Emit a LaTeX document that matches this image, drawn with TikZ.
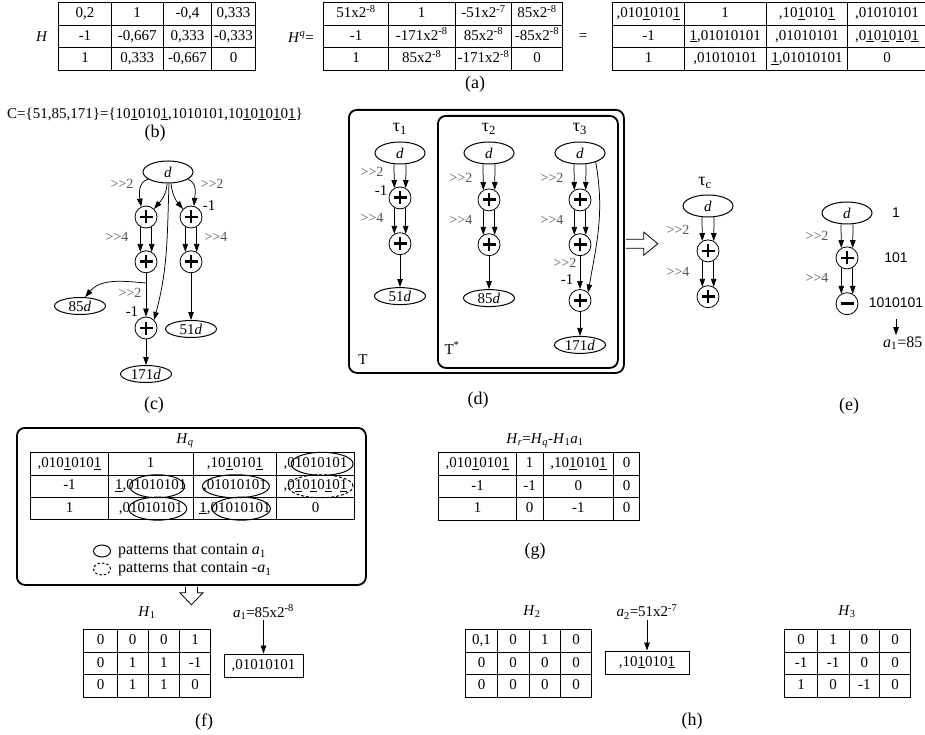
\documentclass[tikz,border=0pt]{standalone}
\usepackage{fontspec}
\setmainfont{Liberation Serif}
\setsansfont{Liberation Sans}
\usetikzlibrary{arrows.meta,positioning,matrix,shapes.geometric}
\definecolor{shiftgray}{HTML}{555555}
\newcommand{\nd}[1]{\underline{#1}}
\newcommand{\shr}[1]{>\kern0pt>#1}
\newcommand{\tauof}[1]{τ\textsubscript{#1}}

\begin{document}
\begin{tikzpicture}[x=1pt,y=1pt,
 font=\fontsize{15}{18}\selectfont,
 node distance=22pt,
 dnode/.style={ellipse,draw,line width=1pt,minimum width=50pt,minimum height=22pt,inner sep=0pt},
 res/.style={ellipse,draw,line width=1pt,minimum width=51pt,minimum height=17pt,inner sep=0pt},
 adder/.style={circle,draw,line width=0.8pt,minimum size=22pt,inner sep=0pt,
   path picture={\draw[line width=2.8pt]
     ([xshift=-6.5pt]path picture bounding box.center) -- ([xshift=6.5pt]path picture bounding box.center)
     ([yshift=-6.5pt]path picture bounding box.center) -- ([yshift=6.5pt]path picture bounding box.center);}},
 subber/.style={circle,draw,line width=0.8pt,minimum size=22pt,inner sep=0pt,
   path picture={\draw[line width=2.8pt]
     ([xshift=-6.5pt]path picture bounding box.center) -- ([xshift=6.5pt]path picture bounding box.center);}},
 arr/.style={-{Triangle[length=8pt,width=5.5pt]},line width=0.75pt},
 lbl/.style={inner sep=1pt},
 taulbl/.style={inner sep=1pt,font=\fontsize{18}{20}\selectfont},
 captxt/.style={inner sep=1pt,font=\fontsize{18}{20}\selectfont},
 shiftlbl/.style={inner sep=1pt,text=shiftgray,font=\fontsize{14}{16}\selectfont},
 sanslbl/.style={inner sep=1pt,font=\sffamily\fontsize{14}{16}\selectfont},
 legtxt/.style={inner sep=1pt,font=\fontsize{16}{18}\selectfont},
 cell/.style={draw,line width=0.9pt,minimum height=22.6pt,inner sep=0pt,anchor=center,
   text height=10pt,text depth=3pt},
 tbl/.style={matrix of nodes,nodes={cell},column sep=-0.9pt,row sep=-0.9pt,inner sep=0pt,
   anchor=north west},
 frame/.style={draw,line width=1.8pt,rounded corners=8pt,anchor=north west,inner sep=0pt},
 pat/.style={ellipse,draw,line width=1pt,minimum height=23pt,inner sep=0pt},
 openarr/.style={draw,fill=white,line width=0.8pt,line join=miter}
]
\useasboundingbox (0,0) rectangle (925,-735);

% (a) the three matrices
\node[lbl] (Hname) at (42,-37) {\textit{H}};
\matrix[tbl,
 column 1/.style={nodes={minimum width=52.7pt}},
 column 2/.style={nodes={minimum width=51.7pt}},
 column 3/.style={nodes={minimum width=48.7pt}},
 column 4/.style={nodes={minimum width=43.7pt}}] (Ha) at (58,-2) {
 0,2 & 1 & -0,4 & 0,333 \\
 -1 & -0,667 & 0,333 & -0,333 \\
 1 & 0,333 & -0,667 & 0 \\
};
\node[lbl] (Hqname) at (301,-37) {\textit{H}\textsuperscript{\textit{q}}=};
\matrix[tbl,
 column 1/.style={nodes={minimum width=64.7pt}},
 column 2/.style={nodes={minimum width=66.7pt}},
 column 3/.style={nodes={minimum width=56.7pt}},
 column 4/.style={nodes={minimum width=50.7pt}}] (Hqa) at (323,-2) {
 51x2\textsuperscript{-8} & 1 & -51x2\textsuperscript{-7} & 85x2\textsuperscript{-8} \\
 -1 & -171x2\textsuperscript{-8} & 85x2\textsuperscript{-8} & -85x2\textsuperscript{-8} \\
 1 & 85x2\textsuperscript{-8} & -171x2\textsuperscript{-8} & 0 \\
};
\node[lbl] (eqa) at (583,-37) {=};
\matrix[tbl,
 column 1/.style={nodes={minimum width=71.7pt}},
 column 2/.style={nodes={minimum width=81.7pt}},
 column 3/.style={nodes={minimum width=81.7pt}},
 column 4/.style={nodes={minimum width=78.7pt}}] (Hca) at (612,-2) {
 ,010\nd{1}010\nd{1} & 1 & ,10\nd{1}010\nd{1} & ,01010101 \\
 -1 & \nd{1},01010101 & ,01010101 & ,0\nd{1}0\nd{1}0\nd{1}0\nd{1} \\
 1 & ,01010101 & \nd{1},01010101 & 0 \\
};
\node[captxt] (capa) at (475,-84) {(a)};

% (b)
\node[lbl,anchor=west] (Cset) at (6,-114)
 {C=\{51,85,171\}=\{10\nd{1}010\nd{1},1010101,10\nd{1}0\nd{1}0\nd{1}0\nd{1}\}};
\node[captxt] (capb) at (155,-133) {(b)};

% (c) graph of the three constants
\node[dnode] (cd) at (168,-172) {\textit{d}};
\node[adder] (cL1) at (146,-217) {};
\node[adder] (cR1) at (191,-217) {};
\node[adder,below=of cL1] (cL2) {};
\node[adder,below=of cR1] (cR2) {};
\node[adder] (cL3) at (146,-328) {};
\node[res] (c85) at (80,-306) {85\textit{d}};
\node[res] (c51) at (191,-329) {51\textit{d}};
\node[res] (c171) at (146,-374) {171\textit{d}};
\coordinate (cSplit) at (146,-283);
\draw[arr] (cd.200) to[out=195,in=100] (cL1.115);
\draw[arr] (cd.265) to[out=268,in=50] (cL1.45);
\draw[arr] (cd.285) to[out=275,in=130] (cR1.135);
\draw[arr] (cd.340) to[out=340,in=85] (cR1.75);
\draw[arr] (cd.275) to[out=268,in=75] (cL3.45);
\draw[arr] (cL1.240) -- (cL2.120);
\draw[arr] (cL1.300) -- (cL2.60);
\draw[arr] (cR1.240) -- (cR2.120);
\draw[arr] (cR1.300) -- (cR2.60);
\draw[arr] (cL2) -- (cL3);
\draw[arr] (cSplit) to[out=175,in=50] (c85.60);
\draw[arr] (cR2) -- (c51);
\draw[arr] (cL3) -- (c171);
\node[shiftlbl] (cs1) at (122,-184) {\shr{2}};
\node[shiftlbl] (cs2) at (212,-184) {\shr{2}};
\node[lbl] (cm1) at (209,-206) {-1};
\node[shiftlbl] (cs3) at (117,-237) {\shr{4}};
\node[shiftlbl] (cs4) at (216,-237) {\shr{4}};
\node[shiftlbl] (cs5) at (130,-293) {\shr{2}};
\node[lbl] (cm2) at (132,-312) {-1};
\node[captxt] (capc) at (154,-405) {(c)};

% (d) trees tau_1, tau_2, tau_3
\node[frame,minimum width=275pt,minimum height=263pt] (Tbox) at (348,-109) {};
\node[frame,minimum width=180pt,minimum height=252pt] (Tsbox) at (437,-115) {};
\node[lbl] (Tlbl) at (363,-360) {T};
\node[lbl] (Tslbl) at (452,-348) {T\textsuperscript{*}};

\node[taulbl] (tau1) at (400,-129) {\tauof{1}};
\node[dnode] (t1d) at (400,-153) {\textit{d}};
\node[adder,below=of t1d] (t1a) {};
\node[adder,below=23pt of t1a] (t1b) {};
\node[res,below=32pt of t1b] (t1r) {51\textit{d}};
\draw[arr] ([xshift=-6pt]t1d.south) -- (t1a.120);
\draw[arr] ([xshift=6pt]t1d.south) -- (t1a.60);
\draw[arr] (t1a.240) -- (t1b.120);
\draw[arr] (t1a.300) -- (t1b.60);
\draw[arr] (t1b) -- (t1r);
\node[shiftlbl] (t1s1) at (372,-172) {\shr{2}};
\node[lbl] (t1m) at (381,-191) {-1};
\node[shiftlbl] (t1s2) at (372,-218) {\shr{4}};

\node[taulbl] (tau2) at (489,-129) {\tauof{2}};
\node[dnode] (t2d) at (489,-153) {\textit{d}};
\node[adder,below=24pt of t2d] (t2a) {};
\node[adder,below=of t2a] (t2b) {};
\node[res,below=33pt of t2b] (t2r) {85\textit{d}};
\draw[arr] ([xshift=-6pt]t2d.south) -- (t2a.120);
\draw[arr] ([xshift=6pt]t2d.south) -- (t2a.60);
\draw[arr] (t2a.240) -- (t2b.120);
\draw[arr] (t2a.300) -- (t2b.60);
\draw[arr] (t2b) -- (t2r);
\node[shiftlbl] (t2s1) at (461,-178) {\shr{2}};
\node[shiftlbl] (t2s2) at (461,-220) {\shr{4}};

\node[taulbl] (tau3) at (580,-129) {\tauof{3}};
\node[dnode] (t3d) at (580,-153) {\textit{d}};
\node[adder,below=24pt of t3d] (t3a) {};
\node[adder,below=of t3a] (t3b) {};
\node[adder,below=33pt of t3b] (t3c) {};
\node[res,below=24pt of t3c] (t3r) {171\textit{d}};
\draw[arr] ([xshift=-6pt]t3d.south) -- (t3a.120);
\draw[arr] ([xshift=6pt]t3d.south) -- (t3a.60);
\draw[arr] (t3a.240) -- (t3b.120);
\draw[arr] (t3a.300) -- (t3b.60);
\draw[arr] (t3b) -- (t3c);
\draw[arr] (t3d.-30) to[out=-80,in=80] (t3c.45);
\draw[arr] (t3c) -- (t3r);
\node[shiftlbl] (t3s1) at (552,-178) {\shr{2}};
\node[shiftlbl] (t3s2) at (552,-220) {\shr{4}};
\node[shiftlbl] (t3s3) at (565,-263) {\shr{2}};
\node[lbl] (t3m) at (567,-280) {-1};
\node[captxt] (capd) at (478,-400) {(d)};

% open arrow towards the common tree
\draw[openarr] (Tbox.east |- t1b) ++(1,4.5) -- ++(18,0) -- ++(0,7) -- ++(14,-11.5)
 -- ++(-14,-11.5) -- ++(0,7) -- ++(-18,0);

% common tree tau_c
\node[taulbl] (tauc) at (705,-183) {\tauof{c}};
\node[dnode] (tcd) at (708,-206) {\textit{d}};
\node[adder,below=of tcd] (tca) {};
\node[adder,below=23pt of tca] (tcb) {};
\draw[arr] ([xshift=-6pt]tcd.south) -- (tca.120);
\draw[arr] ([xshift=6pt]tcd.south) -- (tca.60);
\draw[arr] (tca.240) -- (tcb.120);
\draw[arr] (tca.300) -- (tcb.60);
\node[shiftlbl] (tcs1) at (678,-230) {\shr{2}};
\node[shiftlbl] (tcs2) at (678,-272) {\shr{4}};

% (e)
\node[dnode] (ed) at (847,-213) {\textit{d}};
\node[adder,below=of ed] (ea) {};
\node[subber,below=23pt of ea] (eb) {};
\draw[arr] ([xshift=-6pt]ed.south) -- (ea.120);
\draw[arr] ([xshift=6pt]ed.south) -- (ea.60);
\draw[arr] (ea.240) -- (eb.120);
\draw[arr] (ea.300) -- (eb.60);
\node[shiftlbl] (es1) at (817,-236) {\shr{2}};
\node[shiftlbl] (es2) at (817,-278) {\shr{4}};
\node[sanslbl] (e1) at (896,-213) {1};
\node[sanslbl] (e101) at (896,-258) {101};
\node[sanslbl] (e85) at (896,-303) {1010101};
\node[lbl,anchor=west,font=\fontsize{16}{18}\selectfont] (ea1) at (882,-343) {\textit{a}\textsubscript{1}=85};
\draw[arr] ([yshift=-10pt]e85.south) -- (e85.south |- ea1.north);
\node[captxt] (cape) at (849,-406) {(e)};

% (f) H_q with the patterns
\node[frame,minimum width=349pt,minimum height=157pt] (Hqbox) at (16,-427) {};
\node[lbl] (Hqlbl) at (185,-441) {\textit{H}\textsubscript{\textit{q}}};
\matrix[tbl,
 nodes={minimum height=22.4pt},
 column 1/.style={nodes={minimum width=77.7pt}},
 column 2/.style={nodes={minimum width=84.7pt}},
 column 3/.style={nodes={minimum width=83.7pt}},
 column 4/.style={nodes={minimum width=77.7pt}}] (Hqf) at (30,-452) {
 ,010\nd{1}010\nd{1} & 1 & ,10\nd{1}010\nd{1} & ,01010101 \\
 -1 & \nd{1},01010101 & ,01010101 & ,0\nd{1}0\nd{1}0\nd{1}0\nd{1} \\
 1 & ,01010101 & \nd{1},01010101 & 0 \\
};
\node[pat,minimum width=62pt,xshift=6.5pt] (o14) at (Hqf-1-4) {};
\node[pat,minimum width=55pt,xshift=6.5pt] (o22) at (Hqf-2-2) {};
\node[pat,minimum width=67pt,xshift=1pt] (o23) at (Hqf-2-3) {};
\node[pat,minimum width=65pt,xshift=5pt,dash pattern=on 3pt off 2pt] (o24) at (Hqf-2-4) {};
\node[pat,minimum width=58pt,xshift=7pt] (o32) at (Hqf-3-2) {};
\node[pat,minimum width=58pt,xshift=6.5pt] (o33) at (Hqf-3-3) {};
\node[pat,minimum width=17pt,minimum height=12pt] (legA) at (102,-551) {};
\node[legtxt,right=6pt of legA] (legAtxt) {patterns that contain \textit{a}\textsubscript{1}};
\node[pat,minimum width=17pt,minimum height=12pt,dash pattern=on 2.5pt off 2pt] (legB) at (102,-569) {};
\node[legtxt,right=6pt of legB] (legBtxt) {patterns that contain -\textit{a}\textsubscript{1}};
\draw[openarr] (Hqbox.south) ++(-6,-1) -- ++(0,-6) -- ++(-5.5,0) -- ++(11.5,-12)
 -- ++(11.5,12) -- ++(-5.5,0) -- ++(0,6);

\node[lbl] (H1lbl) at (147,-613) {\textit{H}\textsubscript{1}};
\matrix[tbl,
 column 1/.style={nodes={minimum width=33.7pt}},
 column 2/.style={nodes={minimum width=30.7pt}},
 column 3/.style={nodes={minimum width=31.7pt}},
 column 4/.style={nodes={minimum width=30.7pt}}] (Hone) at (83,-629) {
 0 & 0 & 0 & 1 \\
 0 & 1 & 1 & -1 \\
 0 & 1 & 1 & 0 \\
};
\node[lbl] (a1lbl) at (263.5,-612) {\textit{a}\textsubscript{1}=85x2\textsuperscript{-8}};
\node[cell,minimum width=79pt,minimum height=23pt] (a1box) at (263.5,-665.5) {,01010101};
\draw[arr] (a1lbl) -- (a1box);
\node[captxt] (capf) at (204,-722) {(f)};

% (g) remainder
\node[lbl] (Hrlbl) at (545,-441)
 {\textit{H}\textsubscript{\textit{r}}=\textit{H}\textsubscript{\textit{q}}-\textit{H}\textsubscript{1}\textit{a}\textsubscript{1}};
\matrix[tbl,
 column 1/.style={nodes={minimum width=77.7pt}},
 column 2/.style={nodes={minimum width=26.7pt}},
 column 3/.style={nodes={minimum width=70.7pt}},
 column 4/.style={nodes={minimum width=25.7pt}}] (Hr) at (438,-452) {
 ,010\nd{1}010\nd{1} & 1 & ,10\nd{1}010\nd{1} & 0 \\
 -1 & -1 & 0 & 0 \\
 1 & 0 & -1 & 0 \\
};
\node[captxt] (capg) at (535,-551) {(g)};

% (h) H_2, a_2 and H_3
\node[lbl] (H2lbl) at (532,-612) {\textit{H}\textsubscript{2}};
\matrix[tbl,
 column 1/.style={nodes={minimum width=31.7pt}},
 column 2/.style={nodes={minimum width=31.7pt}},
 column 3/.style={nodes={minimum width=31.7pt}},
 column 4/.style={nodes={minimum width=30.7pt}}] (Htwo) at (465,-629) {
 0,1 & 0 & 1 & 0 \\
 0 & 0 & 0 & 0 \\
 0 & 0 & 0 & 0 \\
};
\node[lbl] (a2lbl) at (647,-612) {\textit{a}\textsubscript{2}=51x2\textsuperscript{-7}};
\node[cell,minimum width=84pt,minimum height=23pt] (a2box) at (647,-662.5) {,10\nd{1}010\nd{1}};
\draw[arr] (a2lbl) -- (a2box);
\node[lbl] (H3lbl) at (847,-612) {\textit{H}\textsubscript{3}};
\matrix[tbl,
 column 1/.style={nodes={minimum width=32.7pt}},
 column 2/.style={nodes={minimum width=31.7pt}},
 column 3/.style={nodes={minimum width=30.7pt}},
 column 4/.style={nodes={minimum width=30.7pt}}] (Hthree) at (784,-629) {
 0 & 1 & 0 & 0 \\
 -1 & -1 & 0 & 0 \\
 1 & 0 & -1 & 0 \\
};
\node[captxt] (caph) at (692,-721) {(h)};
\end{tikzpicture}
\end{document}
